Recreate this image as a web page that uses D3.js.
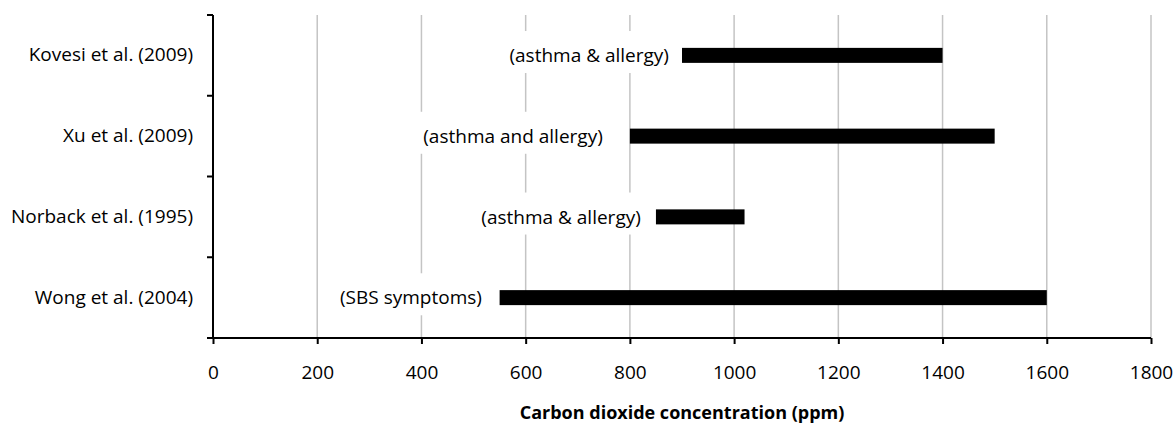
<!DOCTYPE html>
<html lang="en">
<head>
<meta charset="utf-8">
<title>CO2 ranges</title>
<script src="https://cdn.jsdelivr.net/npm/d3@7/dist/d3.min.js"></script>
<style>
  body { margin: 0; background: #fff; }
  text { font-family: "Open Sans", "Liberation Sans", sans-serif; }
</style>
</head>
<body>
<svg width="1175" height="426"></svg>
<script>
// data, top to bottom
var studies  = ["Kovesi et al. (2009)", "Xu et al. (2009)", "Norback et al. (1995)", "Wong et al. (2004)"];
var lowPpm   = [900, 800, 850, 550];
var highPpm  = [1400, 1500, 1020, 1600];
var notes    = ["(asthma & allergy)", "(asthma and allergy)", "(asthma & allergy)", "(SBS symptoms)"];
var noteAt   = [875, 748, 821, 516];   // where each note ends, in ppm
var xTicks   = [0, 200, 400, 600, 800, 1000, 1200, 1400, 1600, 1800];

var svg = d3.select("svg");
var margin = {top: 15, left: 213, right: 24, bottom: 88};
var width = 1175 - margin.left - margin.right,
    height = 426 - margin.top - margin.bottom;
var fs = "19px";

var x = d3.scaleLinear().domain([0, 1800]).range([0, width]);
var y = d3.scaleBand().domain(studies).range([0, height]);

var g = svg.append("g").attr("transform", "translate(" + margin.left + "," + margin.top + ")");

// vertical gridlines
g.selectAll(".grid")
  .data(xTicks.filter(function(d) { return d > 0; }))
  .enter().append("line")
    .attr("x1", function(d) { return x(d); })
    .attr("x2", function(d) { return x(d); })
    .attr("y1", 0).attr("y2", height)
    .style("stroke", "#c4c4c4").style("stroke-width", 1.5);

// bars
var bh = 15;
g.selectAll(".bar")
  .data(studies)
  .enter().append("rect")
    .attr("x", function(d, i) { return x(lowPpm[i]); })
    .attr("width", function(d, i) { return x(highPpm[i]) - x(lowPpm[i]); })
    .attr("y", function(d) { return y(d) + y.bandwidth() / 2 - bh / 2; })
    .attr("height", bh)
    .style("fill", "#000");

// notes with white boxes (they cut the gridlines)
var notesG = g.selectAll(".note")
  .data(studies)
  .enter().append("g");

notesG.append("text")
    .attr("x", function(d, i) { return x(noteAt[i]); })
    .attr("y", function(d) { return y(d) + y.bandwidth() / 2; })
    .attr("dy", "0.35em")
    .attr("text-anchor", "end")
    .style("font-size", fs)
    .style("fill", "#000")
    .text(function(d, i) { return notes[i]; })
    .each(function() {
      var b = this.getBBox();
      d3.select(this.parentNode).insert("rect", "text")
        .attr("x", b.x - 8).attr("width", b.width + 16)
        .attr("y", b.y - 11).attr("height", 42)
        .style("fill", "#fff");
    });

// y axis
var yAxis = g.append("g")
  .call(d3.axisLeft(y).tickSize(0).tickPadding(20));
yAxis.select(".domain").remove();
yAxis.selectAll("text").style("font-size", fs).style("fill", "#000");

g.selectAll(".ytick")
  .data(d3.range(studies.length + 1))
  .enter().append("line")
    .attr("x1", -6).attr("x2", 0)
    .attr("y1", function(i) { return i * y.step(); })
    .attr("y2", function(i) { return i * y.step(); })
    .style("stroke", "#000").style("stroke-width", 2);

g.append("line")
  .attr("x1", 0).attr("x2", 0).attr("y1", 0).attr("y2", height)
  .style("stroke", "#000").style("stroke-width", 2);

// x axis
var xAxis = g.append("g")
  .attr("transform", "translate(0," + height + ")")
  .call(d3.axisBottom(x).tickValues(xTicks).tickFormat(d3.format("d")).tickSize(6).tickPadding(22));
xAxis.select(".domain").style("stroke-width", 2).attr("d", "M0,0H" + width);
xAxis.selectAll(".tick line").style("stroke-width", 2);
xAxis.selectAll("text").style("font-size", fs).style("fill", "#000");

g.append("text")
  .attr("x", width / 2)
  .attr("y", height + 75)
  .attr("dy", "0.35em")
  .attr("text-anchor", "middle")
  .style("font-size", "18px")
  .style("font-weight", "bold")
  .style("fill", "#000")
  .text("Carbon dioxide concentration (ppm)");
</script>
</body>
</html>
